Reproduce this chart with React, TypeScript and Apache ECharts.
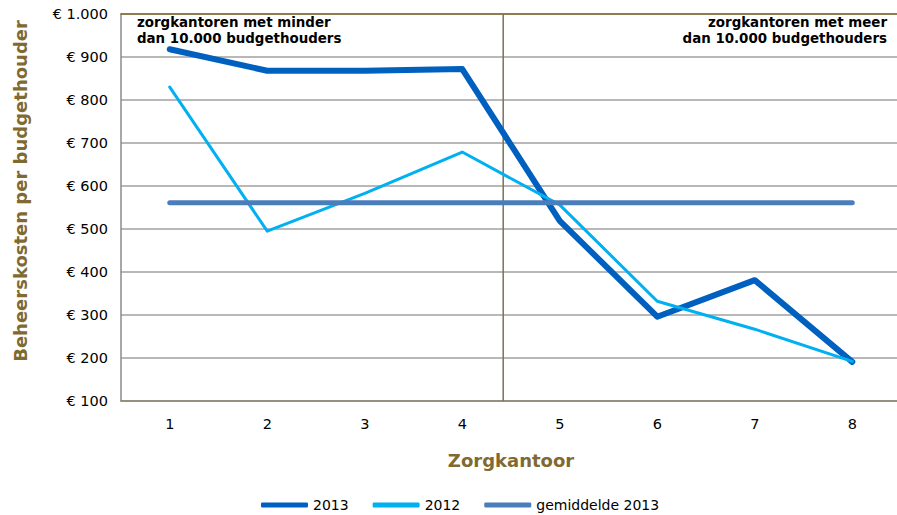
import React, { useEffect, useRef } from "react";
import * as echarts from "echarts";

const categories = ["1", "2", "3", "4", "5", "6", "7", "8"];
const values2013 = [918, 868, 868, 872, 519, 296, 381, 191];
const values2012 = [830, 495, 583, 679, 556, 332, 267, 192];
const gemiddelde2013 = [561, 561, 561, 561, 561, 561, 561, 561];
const separatorPos = 3.92; // position of the group separator on the 0..8 category scale
const yTicks = { min: 100, max: 1000, interval: 100 };
const annotationLeft = "zorgkantoren met minder\ndan 10.000 budgethouders";
const annotationRight = "zorgkantoren met meer\ndan 10.000 budgethouders";

const BROWN = "#7f6a32";
const FONT = "DejaVu Sans";

function fmtEuro(v: number): string {
  const s = String(v).replace(/\B(?=(\d{3})+(?!\d))/g, ".");
  return "€ " + s;
}

export default function App() {
  const ref = useRef<HTMLDivElement>(null);
  useEffect(() => {
    if (!ref.current) return;
    const chart = echarts.init(ref.current, undefined, { renderer: "svg" });
    chart.setOption({
      animation: false,
      textStyle: { fontFamily: FONT },
      grid: { left: 121, top: 14, width: 780, height: 387, outerBoundsMode: "none" },
      legend: {
        left: 256,
        top: 493,
        icon: "roundRect",
        itemWidth: 47,
        itemHeight: 5,
        itemGap: 24,
        data: ["2013", "2012", "gemiddelde 2013"],
        textStyle: { fontSize: 14, color: "#000", fontFamily: FONT },
      },
      xAxis: [
        {
          type: "category",
          data: categories,
          boundaryGap: true,
          axisLine: { show: true, lineStyle: { color: "#8c8370", width: 1.5 } },
          axisTick: { show: false },
          axisLabel: { margin: 15, fontSize: 14.5, color: "#000", fontFamily: FONT },
          splitLine: { show: false },
          name: "Zorgkantoor",
          nameLocation: "middle",
          nameGap: 50,
          nameTextStyle: { fontSize: 18, fontWeight: "bold", color: BROWN, fontFamily: FONT },
        },
        {
          type: "value",
          position: "top",
          min: 0,
          max: 8,
          axisLine: { show: true, lineStyle: { color: BROWN, width: 1.5 } },
          axisTick: { show: false },
          axisLabel: { show: false },
          splitLine: { show: false },
        },
      ],
      yAxis: {
        type: "value",
        min: yTicks.min,
        max: yTicks.max,
        interval: yTicks.interval,
        axisLine: { show: true, lineStyle: { color: "#8a8a8a", width: 1.5 } },
        axisTick: { show: false },
        axisLabel: {
          margin: 13,
          fontSize: 14.5,
          color: "#000",
          fontFamily: FONT,
          formatter: (v: number) => fmtEuro(v),
        },
        splitLine: { show: true, lineStyle: { color: "#a0a0a0", width: 1.5 } },
      },
      graphic: [
        {
          type: "text",
          x: 20,
          y: 191,
          rotation: Math.PI / 2,
          style: {
            text: "Beheerskosten per budgethouder",
            fill: BROWN,
            font: `bold 18px "${FONT}"`,
            textAlign: "center",
            textVerticalAlign: "middle",
          },
        },
        {
          type: "text",
          x: 137,
          y: 14,
          style: {
            text: annotationLeft,
            fill: "#000",
            font: `bold 13.4px "${FONT}"`,
            lineHeight: 16,
            textAlign: "left",
          },
        },
        {
          type: "text",
          x: 887,
          y: 14,
          style: {
            text: annotationRight,
            fill: "#000",
            font: `bold 13.4px "${FONT}"`,
            lineHeight: 16,
            textAlign: "right",
          },
        },
      ],
      series: [
        {
          name: "separator",
          type: "line",
          xAxisIndex: 1,
          data: [
            [separatorPos, yTicks.min],
            [separatorPos, yTicks.max],
          ],
          symbol: "none",
          silent: true,
          lineStyle: { color: "#7f7055", width: 1.5 },
          z: 1,
        },
        {
          name: "2013",
          type: "line",
          data: values2013,
          symbol: "none",
          color: "#0060c0",
          lineStyle: { color: "#0060c0", width: 6, cap: "round", join: "round" },
          z: 3,
        },
        {
          name: "2012",
          type: "line",
          data: values2012,
          symbol: "none",
          color: "#00b0f0",
          lineStyle: { color: "#00b0f0", width: 3, cap: "round", join: "round" },
          z: 4,
        },
        {
          name: "gemiddelde 2013",
          type: "line",
          data: gemiddelde2013,
          symbol: "none",
          color: "#4a7ebb",
          lineStyle: { color: "#4a7ebb", width: 5, cap: "round", join: "round" },
          z: 5,
        },
      ],
    });
    return () => chart.dispose();
  }, []);
  return (
    <div
      ref={ref}
      style={{ position: "fixed", left: 0, top: 0, width: 897, height: 515, background: "#fff" }}
    />
  );
}
